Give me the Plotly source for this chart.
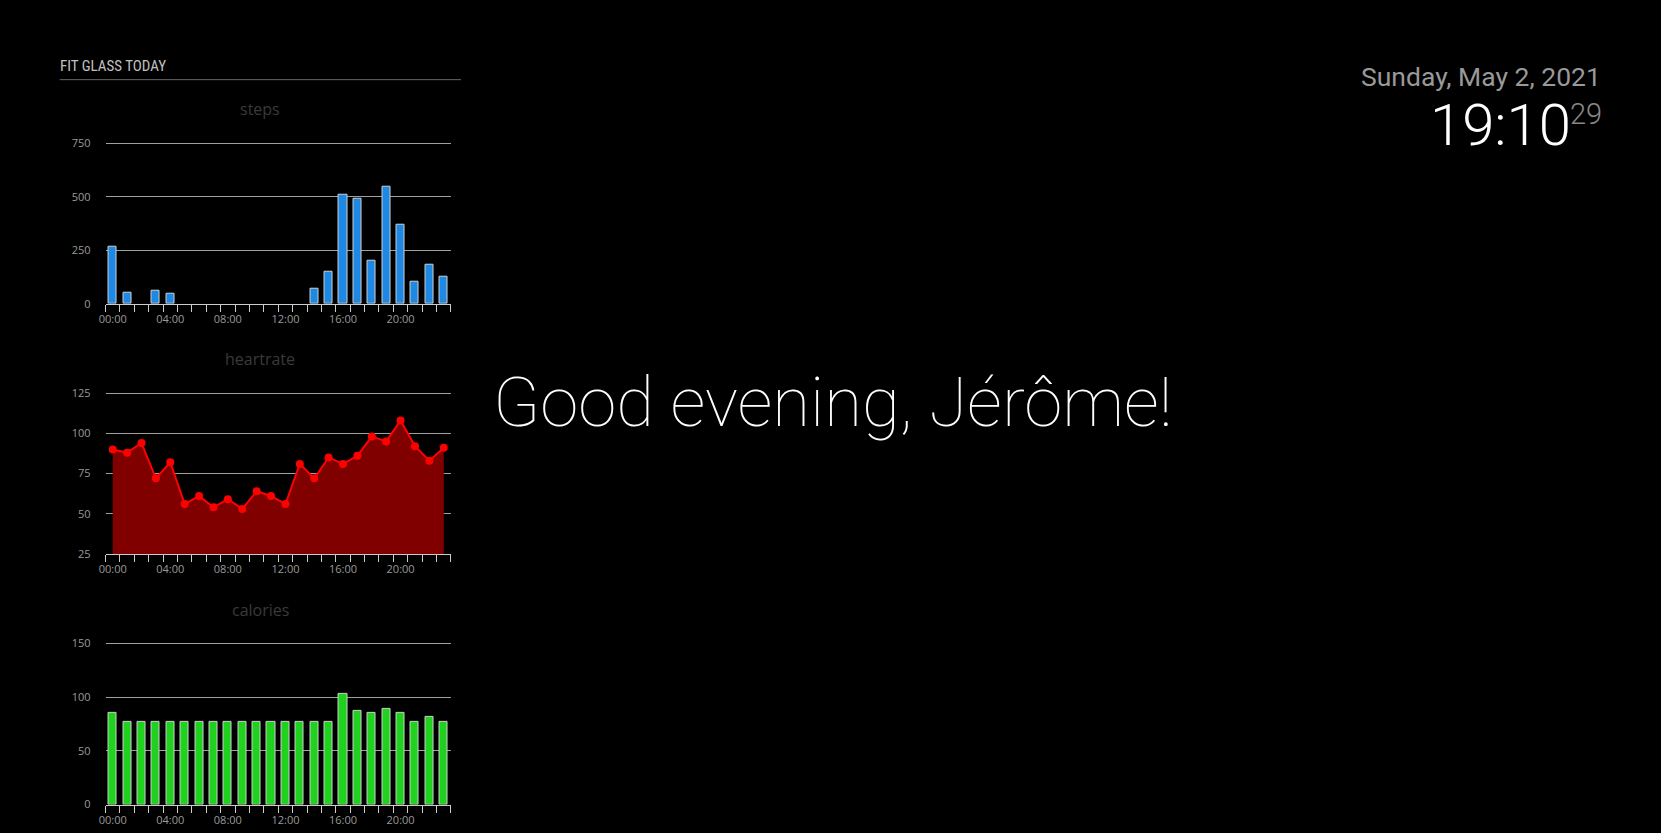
import plotly.graph_objects as go

W, H = 1661, 833

hours = list(range(24))
hour_labels = ["00:00", "04:00", "08:00", "12:00", "16:00", "20:00"]
label_hours = [0, 4, 8, 12, 16, 20]

steps = [267, 50, 0, 61, 45, 0, 0, 0, 0, 0, 0, 0, 0, 0, 70, 150,
         510, 491, 200, 547, 370, 101, 181, 126]
heartrate = [90, 88, 94, 72, 82, 56, 61, 54, 59, 53, 64, 61, 56, 81, 72, 85,
             81, 86, 98, 95, 108, 92, 83, 91]
calories = [85, 77, 77, 77, 77, 77, 77, 77, 77, 77, 77, 77, 77, 77, 77, 77,
            103, 87, 85, 89, 85, 77, 82, 77]

steps_ticks = [0, 250, 500, 750]
hr_ticks = [25, 50, 75, 100, 125]
cal_ticks = [0, 50, 100, 150]

header_title = "FIT GLASS TODAY"
chart_titles = ["steps", "heartrate", "calories"]
date_text = "Sunday, May 2, 2021"
time_text = "19:10"
seconds_text = "29"
greeting = "Good evening, Jérôme!"

# The page is photographed with its default body margin and rescaled,
# so screen positions are mapped back to figure positions here.
SX, AX = 0.9925, 7.5
SY, AY = 0.9835, 6.9


def px(x):
    return ((x - AX) / SX) / W


def py(y):
    return 1 - ((y - AY) / SY) / H


TICK_FONT = dict(family="Open Sans, DejaVu Sans, sans-serif", size=11, color="#9a9a9a")
boundaries = [h - 0.5 for h in range(25)]

fig = go.Figure()

fig.add_trace(go.Bar(x=hours, y=steps, width=0.56, xaxis="x", yaxis="y",
                     marker=dict(color="#1e88e5",
                                 line=dict(color="#d0d0d0",
                                           width=[1 if v > 0 else 0 for v in steps]))))
fig.add_trace(go.Scatter(x=hours, y=heartrate, xaxis="x2", yaxis="y2", mode="lines+markers",
                         fill="tozeroy", fillcolor="#800000",
                         line=dict(color="#ff0000", width=2),
                         marker=dict(color="#ff0000", size=8)))
fig.add_trace(go.Bar(x=hours, y=calories, width=0.56, xaxis="x3", yaxis="y3",
                     marker=dict(color="#1ed21e", line=dict(color="#d0d0d0", width=1))))

x_dom = [px(105.7), px(450)]
plots = [
    ("", steps_ticks, (144, 304.3)),
    ("2", hr_ticks, (393.7, 554.3)),
    ("3", cal_ticks, (643.7, 804.7)),
]
EXT = 2.5  # px of headroom so the top gridline is drawn

layout = dict(
    width=W, height=H, margin=dict(l=0, r=0, t=0, b=0),
    paper_bgcolor="#000000", plot_bgcolor="#000000",
    showlegend=False, hovermode=False, bargap=0,
)

for suffix, yt, (top, bot) in plots:
    anchor_y = "y" + suffix
    anchor_x = "x" + suffix
    span = yt[-1] - yt[0]
    h = bot - top
    layout["xaxis" + suffix] = dict(
        domain=x_dom, anchor=anchor_y, range=[-0.5, 23.5],
        tickmode="array", tickvals=label_hours, ticktext=hour_labels,
        ticks="outside", ticklen=5, tickcolor="rgba(0,0,0,0)",
        showline=True, linecolor="#cccccc", linewidth=1,
        showgrid=False, zeroline=False, tickfont=TICK_FONT,
        minor=dict(tickmode="array", tickvals=boundaries, ticks="outside",
                   ticklen=7, tickcolor="#cccccc", tickwidth=1, showgrid=False),
        fixedrange=True,
    )
    layout["yaxis" + suffix] = dict(
        domain=[py(bot), py(top - EXT)], anchor=anchor_x,
        range=[yt[0], yt[-1] + span * EXT / h],
        tickmode="array", tickvals=yt, ticks="", showline=False,
        showgrid=True, gridcolor="#a0a0a0", gridwidth=1, zeroline=False,
        tickfont=TICK_FONT, ticklabelstandoff=14, fixedrange=True,
    )

annotations = [
    dict(x=px(58.2), y=py(67), text=header_title, xanchor="left", yanchor="middle",
         font=dict(family="Roboto Condensed, Liberation Sans Narrow, DejaVu Sans Condensed, sans-serif",
                   size=15, color="#c0c0c0")),
    dict(x=px(1598), y=py(77.5), text=date_text, xanchor="right", yanchor="middle",
         font=dict(family="Roboto, sans-serif", size=26.5, color="#999999")),
    dict(x=px(1568.5), y=py(125.5), text=time_text, xanchor="right", yanchor="middle",
         font=dict(family="Roboto, sans-serif", size=58, color="#ffffff", weight=300)),
    dict(x=px(1563.7), y=py(114.5), text=seconds_text, xanchor="left", yanchor="middle",
         font=dict(family="Roboto, sans-serif", size=29, color="#888888", weight=300)),
    dict(x=px(489.6), y=py(403), text=greeting, xanchor="left", yanchor="middle",
         font=dict(family="Roboto Thin, Roboto, sans-serif", size=69, color="#ffffff", weight=100)),
]
for title, cy in zip(chart_titles, [110, 360, 610]):
    annotations.append(dict(x=px(260), y=py(cy), text=title, xanchor="center", yanchor="middle",
                            font=dict(family="Open Sans, DejaVu Sans, sans-serif", size=16,
                                      color="#3a3a3a")))
for a in annotations:
    a.update(xref="paper", yref="paper", showarrow=False)
layout["annotations"] = annotations
layout["shapes"] = [dict(type="line", xref="paper", yref="paper", x0=px(60), x1=px(460),
                         y0=py(80.5), y1=py(80.5), line=dict(color="#666666", width=1))]

fig.update_layout(**layout)
fig.write_html("out.html", config={"displayModeBar": False})
